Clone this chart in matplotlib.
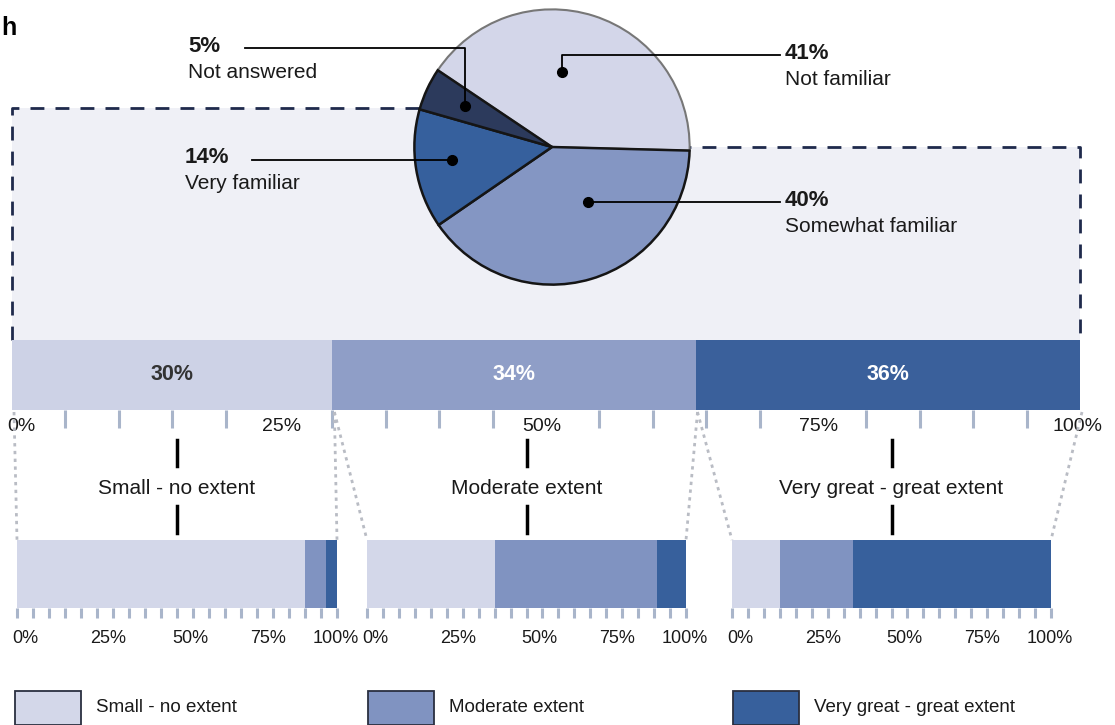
import numpy as np
import matplotlib.pyplot as plt
from matplotlib.patches import Rectangle, Polygon
from matplotlib.transforms import ScaledTranslation

plt.rcParams['font.family'] = ['Liberation Sans', 'DejaVu Sans']

W, H = 1115, 725

# familiarity pie (clockwise from 3 o'clock)
pie_labels = ["Somewhat familiar", "Very familiar", "Not answered", "Not familiar"]
pie_values = [40, 14, 5, 41]
pie_colors = ["#8496c3", "#36609d", "#2c3a5c", "#d3d6e9"]

# extent among the familiar respondents
extent_labels = ["Small - no extent", "Moderate extent", "Very great - great extent"]
extent_values = [30, 34, 36]
extent_colors = ["#cdd2e6", "#8f9ec7", "#3a609b"]

# breakdown of each extent group
small_split = [90, 6.5, 3.5]
moderate_split = [40, 51, 9]
great_split = [15, 23, 62]
split_colors = ["#d3d7e9", "#8093c1", "#37609c"]

tick_vals = [0, 25, 50, 75, 100]
tick_labels = ["0%", "25%", "50%", "75%", "100%"]

TXT = "#1a1a1a"

fig = plt.figure(figsize=(W / 100, H / 100), dpi=100)


def px_axes(x0, y0, x1, y1):
    return fig.add_axes([x0 / W, 1 - y1 / H, (x1 - x0) / W, (y1 - y0) / H])


def overlay(z):
    ax = px_axes(0, 0, W, H)
    ax.set_xlim(0, W)
    ax.set_ylim(H, 0)
    ax.axis('off')
    ax.set_zorder(z)
    return ax


bg = overlay(0)
fg = overlay(10)


def to_px(ax, x, y):
    return fg.transData.inverted().transform(ax.transData.transform((x, y)))


def stacked_bar(ax, vals, colors, tick_len, minor, major_len, pad, size, shifts):
    left = 0
    for v, c in zip(vals, colors):
        ax.barh(0, v, left=left, height=1, color=c, linewidth=0)
        left += v
    ax.set_xlim(0, 100)
    ax.set_ylim(-0.5, 0.5)
    for s in ax.spines.values():
        s.set_visible(False)
    ax.set_yticks([])
    ax.set_xticks(tick_vals, tick_labels)
    ax.set_xticks(minor, minor=True)
    ax.tick_params(axis='x', which='minor', length=tick_len, width=2.2,
                   color='#a9b5ca', direction='out')
    ax.tick_params(axis='x', which='major', length=major_len, width=2.2,
                   color='#a9b5ca', labelsize=size, labelcolor=TXT, pad=pad)
    for lab, dx in zip(ax.get_xticklabels(), shifts):
        lab.set_transform(lab.get_transform() + ScaledTranslation(dx / 100, 0, fig.dpi_scale_trans))
    ax.set_zorder(1)


# ---- top bar
top = px_axes(12, 340, 1080, 410)
top_minor = [t for t in range(0, 101, 5) if t % 25 or t in (0, 100)]
stacked_bar(top, extent_values, extent_colors, 13, top_minor, 0, 6, 14, [9, 3, -4, 6, -2])
left = 0
for i, v in enumerate(extent_values):
    top.text(left + v / 2, 0, f"{v}%", ha='center', va='center', fontsize=15.5,
             fontweight='bold', color='#333333' if i == 0 else 'white')
    left += v

# ---- bottom bars
boxes = [(17, 540, 337, 608), (367, 540, 686, 608), (732, 540, 1051, 608)]
splits = [small_split, moderate_split, great_split]
subs = []
for box, sp in zip(boxes, splits):
    ax = px_axes(*box)
    stacked_bar(ax, sp, split_colors, 7, list(range(0, 101, 5)), 7, 9, 13,
                [8, 11, 13, 11, -1])
    subs.append(ax)

# ---- pie
pie = px_axes(413, 8, 691, 286)
pie.set_zorder(2)
wedges, _ = pie.pie(pie_values, colors=pie_colors, startangle=-1.5, counterclock=False,
                    wedgeprops=dict(edgecolor='#151515', linewidth=1.8))
for w in wedges[:3]:
    w.set_zorder(3)
wedges[3].set_edgecolor('#777777')
wedges[3].set_linewidth(1.5)
wedges[3].set_zorder(2)
pie.set_xlim(-1.01, 1.01)
pie.set_ylim(-1.01, 1.01)

# ---- shaded zoom region behind pie and top bar
cx, cy = to_px(pie, 0, 0)
bx0, by0 = to_px(top, 0, 0.5)
bx1, _ = to_px(top, 100, 0.5)
top_y = 108
bg.add_patch(Polygon([(bx0, top_y), (cx, top_y), (cx, cy), (bx1, cy), (bx1, by0), (bx0, by0)],
                     closed=True, facecolor='#eff0f6', edgecolor='none'))
dash = dict(color='#1f2a4c', lw=2, dashes=(5, 4))
bg.plot([bx0, bx0, cx], [by0, top_y, top_y], **dash)
bg.plot([cx, bx1, bx1], [cy, cy, by0], **dash)

# ---- pie callouts
dot_r = [0.48, 0.73, 0.70, 0.55]
dot_turn = [17, -2, 0, 10]
elbow_y = [None, None, 48, 55]
line_end = [780, 252, 245, 780]
text_x = [785, 185, 188, 785]
for w, lab, val, r, dt, ey, le, tx in zip(wedges, pie_labels, pie_values, dot_r,
                                           dot_turn, elbow_y, line_end, text_x):
    ang = np.radians((w.theta1 + w.theta2) / 2 + dt)
    dx, dy = to_px(pie, r * np.cos(ang), r * np.sin(ang))
    fg.plot(dx, dy, 'o', color='black', ms=7)
    if ey is None:
        fg.plot([dx, le], [dy, dy], color='black', lw=1.3)
        ly = dy
    else:
        fg.plot([dx, dx, le], [dy, ey, ey], color='black', lw=1.3)
        ly = ey
    fg.text(tx, ly - 2, f"{val}%", fontsize=16, fontweight='bold', color=TXT,
            ha='left', va='center')
    fg.text(tx, ly + 24, lab, fontsize=15, color=TXT, ha='left', va='center')

# ---- dotted connectors from top bar to breakdown bars
bounds = np.concatenate([[0], np.cumsum(extent_values)])
dot_style = dict(color='#b9bcc4', lw=2, linestyle=(0, (1.2, 1.6)))
for i, ax in enumerate(subs):
    sx0, sy = to_px(ax, 0, 0.5)
    sx1, _ = to_px(ax, 100, 0.5)
    ax0, ay = to_px(top, bounds[i], -0.5)
    ax1, _ = to_px(top, bounds[i + 1], -0.5)
    fg.plot([ax0 + 2, sx0], [ay + 2, sy], **dot_style)
    fg.plot([ax1 + 2, sx1], [ay + 2, sy], **dot_style)
    mx, _ = to_px(ax, 50, 0)
    fg.plot([mx, mx], [440, 466], color='black', lw=2.5)
    fg.plot([mx, mx], [506, 533], color='black', lw=2.5)
    fg.text(mx, 488, extent_labels[i], fontsize=15, color=TXT, ha='center', va='center')

# ---- legend
leg_x = [15, 368, 733]
for x, lab, c in zip(leg_x, extent_labels, split_colors):
    fg.add_patch(Rectangle((x, 691), 66, 34, facecolor=c, edgecolor='#2a2f40', lw=1.3))
    fg.text(x + 81, 707, lab, fontsize=13.5, color=TXT, ha='left', va='center')

fg.text(1, 28, "h", fontsize=18, fontweight='bold', color='black', ha='left', va='center')

fig.savefig("out.png", dpi=100)
